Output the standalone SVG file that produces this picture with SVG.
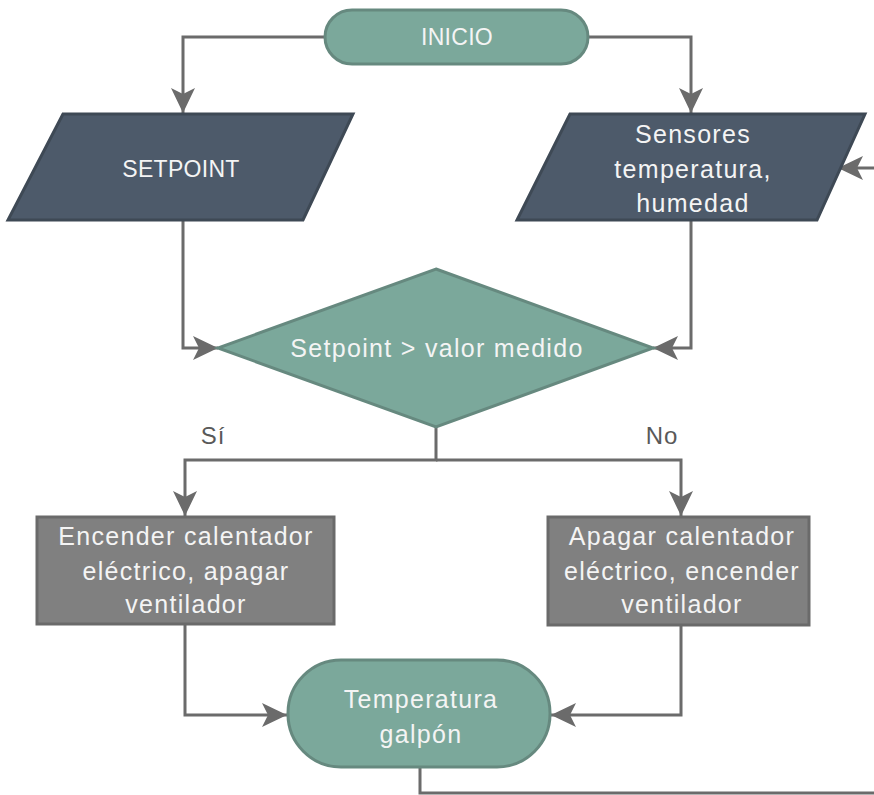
<svg xmlns="http://www.w3.org/2000/svg" width="874" height="795" viewBox="0 0 874 795">
  <defs>
    <marker id="arrow" viewBox="-26 -13 28 26" refX="0" refY="0" markerWidth="28" markerHeight="26" markerUnits="userSpaceOnUse" orient="auto">
      <path d="M0,0 L-25,-12 L-19,0 L-25,12 Z" fill="#6b6b6b"/>
    </marker>
    <style>
      .terminal { fill: #7ba89b; stroke: #66897f; stroke-width: 3; }
      .io { fill: #4d5a6a; stroke: #3e4955; stroke-width: 3; }
      .process { fill: #808080; stroke: #6a6a6a; stroke-width: 3; }
      .label { font-family: "Liberation Sans", Arial, sans-serif; font-size: 25px; letter-spacing: 1.3px; fill: #f4f4f4; text-anchor: middle; }
      .caps { font-size: 23px; letter-spacing: 0.3px; }
      .branch { font-family: "Liberation Sans", Arial, sans-serif; font-size: 24px; letter-spacing: 0.8px; fill: #595959; text-anchor: middle; }
      .wire { fill: none; stroke: #6b6b6b; stroke-width: 3; }
      .arrowed { marker-end: url(#arrow); }
    </style>
  </defs>

  <g id="connectors">
    <path class="wire arrowed" d="M325,37 H183 V113"/>
    <path class="wire arrowed" d="M588,37 H691 V113"/>
    <path class="wire arrowed" d="M183,220 V348 H218"/>
    <path class="wire arrowed" d="M691,220 V348 H653"/>
    <path class="wire arrowed" d="M436,427 V460 H185 V516"/>
    <path class="wire arrowed" d="M436,460 H681 V516"/>
    <path class="wire arrowed" d="M185,624 V715 H287"/>
    <path class="wire arrowed" d="M681,625 V715 H551"/>
    <path class="wire" d="M420,767 V793 H876"/>
    <path class="wire arrowed" d="M876,168 H838"/>
  </g>

  <g id="inicio">
    <rect class="terminal" x="325" y="10" width="263" height="54" rx="27" ry="27"/>
    <text class="label caps" x="457" y="45" font-size="22">INICIO</text>
  </g>

  <g id="setpoint">
    <polygon class="io" points="63,114 353,114 303,220 8,220"/>
    <text class="label caps" x="181" y="177">SETPOINT</text>
  </g>

  <g id="sensores">
    <polygon class="io" points="570,114 865,114 817,220 517,220"/>
    <text class="label" x="693" y="143">Sensores</text>
    <text class="label" x="693" y="178">temperatura,</text>
    <text class="label" x="693" y="212">humedad</text>
  </g>

  <g id="decision">
    <polygon class="terminal" points="436,269 653,348 436,427 218,348"/>
    <text class="label" x="437" y="357">Setpoint &gt; valor medido</text>
  </g>

  <g id="branch-labels">
    <text class="branch" x="213" y="444">Sí</text>
    <text class="branch" x="662" y="444">No</text>
  </g>

  <g id="encender">
    <rect class="process" x="37" y="517" width="297" height="107"/>
    <text class="label" x="186" y="545">Encender calentador</text>
    <text class="label" x="186" y="580">eléctrico, apagar</text>
    <text class="label" x="186" y="613">ventilador</text>
  </g>

  <g id="apagar">
    <rect class="process" x="548" y="517" width="261" height="108"/>
    <text class="label" x="682" y="545">Apagar calentador</text>
    <text class="label" x="682" y="580">eléctrico, encender</text>
    <text class="label" x="682" y="613">ventilador</text>
  </g>

  <g id="temperatura">
    <rect class="terminal" x="288" y="660" width="262" height="107" rx="53" ry="53"/>
    <text class="label" x="421" y="708">Temperatura</text>
    <text class="label" x="421" y="743">galpón</text>
  </g>
</svg>
